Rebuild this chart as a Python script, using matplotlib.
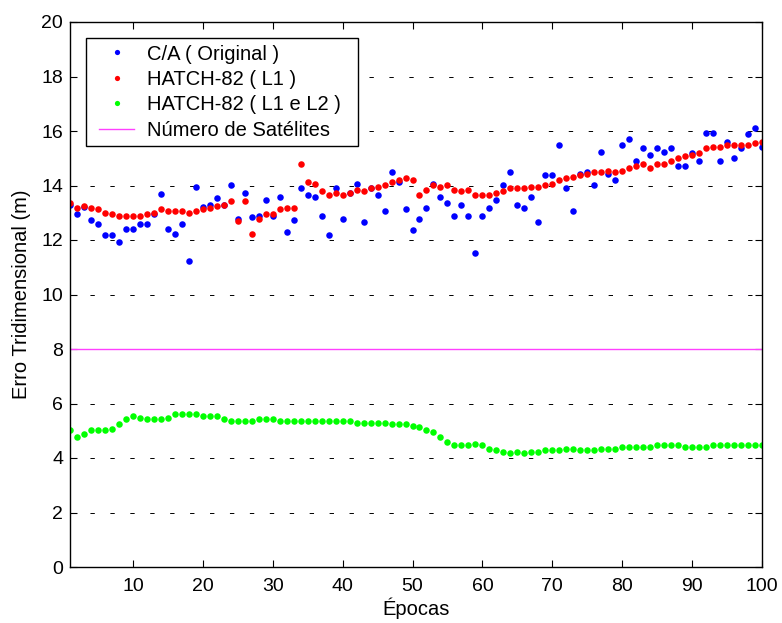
import numpy as np
import matplotlib
matplotlib.use("Agg")
import matplotlib.pyplot as plt
from matplotlib.patches import Rectangle

plt.rcParams['font.family'] = ['Liberation Sans', 'DejaVu Sans']

epocas = np.arange(1, 101)

ca_original = [
    13.30, 12.95, 13.20, 12.72, 12.59, 12.17, 12.17, 11.94, 12.42, 12.42,
    12.59, 12.59, 12.94, 13.67, 12.42, 12.23, 12.59, 11.22, 13.96, 13.20,
    13.30, 13.54, 13.30, 14.01, 12.77, 13.72, 12.83, 12.89, 13.48, 12.88,
    13.59, 12.30, 12.72, 13.90, 13.65, 13.59, 12.89, 12.17, 13.90, 12.77,
    13.72, 14.07, 12.65, 13.90, 13.65, 13.06, 14.49, 14.14, 13.12, 12.36,
    12.77, 13.19, 14.04, 13.59, 13.36, 12.89, 13.30, 12.89, 11.53, 12.89,
    13.19, 13.48, 14.01, 14.49, 13.30, 13.19, 13.59, 12.65, 14.38, 14.38,
    15.49, 13.90, 13.06, 14.43, 14.49, 14.01, 15.24, 14.43, 14.20, 15.48,
    15.72, 14.89, 15.37, 15.12, 15.37, 15.24, 15.37, 14.72, 14.72, 15.18,
    14.89, 15.94, 15.94, 14.89, 15.60, 15.01, 15.37, 15.88, 16.12, 15.41,
]

hatch_l1 = [
    13.36, 13.19, 13.25, 13.19, 13.12, 13.00, 12.94, 12.88, 12.88, 12.88,
    12.88, 12.94, 13.00, 13.12, 13.06, 13.06, 13.06, 13.00, 13.06, 13.12,
    13.19, 13.25, 13.30, 13.42, 12.70, 13.42, 12.23, 12.77, 12.95, 12.94,
    13.12, 13.19, 13.19, 14.78, 14.14, 14.07, 13.78, 13.65, 13.72, 13.65,
    13.72, 13.84, 13.78, 13.90, 13.96, 14.01, 14.14, 14.20, 14.26, 14.20,
    13.65, 13.84, 14.01, 13.96, 14.01, 13.84, 13.78, 13.84, 13.65, 13.65,
    13.65, 13.72, 13.78, 13.90, 13.90, 13.90, 13.96, 13.96, 14.01, 14.07,
    14.20, 14.26, 14.32, 14.38, 14.44, 14.49, 14.49, 14.54, 14.49, 14.55,
    14.66, 14.72, 14.78, 14.66, 14.78, 14.78, 14.89, 15.01, 15.07, 15.13,
    15.18, 15.37, 15.43, 15.43, 15.49, 15.49, 15.49, 15.49, 15.55, 15.60,
]

hatch_l1_l2 = [
    5.01, 4.76, 4.88, 5.01, 5.01, 5.01, 5.07, 5.24, 5.42, 5.53,
    5.47, 5.42, 5.42, 5.42, 5.47, 5.60, 5.60, 5.60, 5.60, 5.53,
    5.53, 5.53, 5.42, 5.36, 5.36, 5.36, 5.36, 5.42, 5.42, 5.42,
    5.36, 5.36, 5.36, 5.36, 5.36, 5.36, 5.36, 5.36, 5.36, 5.36,
    5.36, 5.30, 5.30, 5.30, 5.30, 5.30, 5.24, 5.24, 5.24, 5.18,
    5.12, 5.01, 4.94, 4.76, 4.59, 4.47, 4.47, 4.47, 4.53, 4.47,
    4.34, 4.29, 4.23, 4.17, 4.23, 4.17, 4.23, 4.23, 4.29, 4.29,
    4.29, 4.34, 4.34, 4.29, 4.29, 4.29, 4.34, 4.34, 4.34, 4.40,
    4.40, 4.40, 4.40, 4.40, 4.47, 4.47, 4.47, 4.47, 4.40, 4.40,
    4.40, 4.40, 4.47, 4.47, 4.47, 4.47, 4.47, 4.47, 4.47, 4.47,
]

num_satelites = [8] * 100

labels = ['C/A ( Original )', 'HATCH-82 ( L1 )', 'HATCH-82 ( L1 e L2 )', 'Número de Satélites']
yticks = list(range(0, 21, 2))
xticks = list(range(10, 101, 10))

W, H = 782, 623
fig = plt.figure(figsize=(W / 100, H / 100), dpi=100)
ax = fig.add_axes([70 / W, 1 - 567 / H, 692 / W, 545 / H])

ms = 4.7
ax.plot(epocas, ca_original, 'o', color='#0000ff', ms=ms, mew=0, label=labels[0])
ax.plot(epocas, hatch_l1, 'o', color='#ff0000', ms=ms, mew=0, label=labels[1])
ax.plot(epocas, hatch_l1_l2, 'o', color='#00ff00', ms=ms, mew=0, label=labels[2])
ax.plot(epocas, num_satelites, '-', color='#ff40ff', lw=1.0, label=labels[3])

ax.set_xlim(1, 100)
ax.set_ylim(0, 20)
ax.set_xticks(xticks)
ax.set_yticks(yticks)
ax.yaxis.grid(True, linestyle=(0, (4.5, 16.0)), color='black', lw=0.7)
ax.xaxis.grid(False)
ax.tick_params(direction='in', top=True, right=True, labelsize=14, length=5, width=0.8)
ax.tick_params(axis='x', pad=8)
ax.tick_params(axis='y', pad=5)
for s in ax.spines.values():
    s.set_linewidth(1.0)

ax.set_xlabel('Épocas', fontsize=14.5, labelpad=2)
ax.set_ylabel('Erro Tridimensional (m)', fontsize=14.5, labelpad=7)

# legend box (MATLAB style, extra right padding)
box = Rectangle((86 / W, 1 - 146 / H), (358 - 86) / W, (146 - 38) / H,
                transform=fig.transFigure, facecolor='white', edgecolor='black',
                lw=1.0, zorder=5)
fig.patches.append(box)

leg = fig.legend(*ax.get_legend_handles_labels(), loc='upper left',
                 bbox_to_anchor=(99 / W, 1 - 44.5 / H), fontsize=14.5,
                 frameon=False, handlelength=1.75, handletextpad=0.65,
                 labelspacing=0.32, borderpad=0, borderaxespad=0,
                 markerscale=0.8)
leg.set_zorder(6)

fig.savefig('out.png', dpi=100)
